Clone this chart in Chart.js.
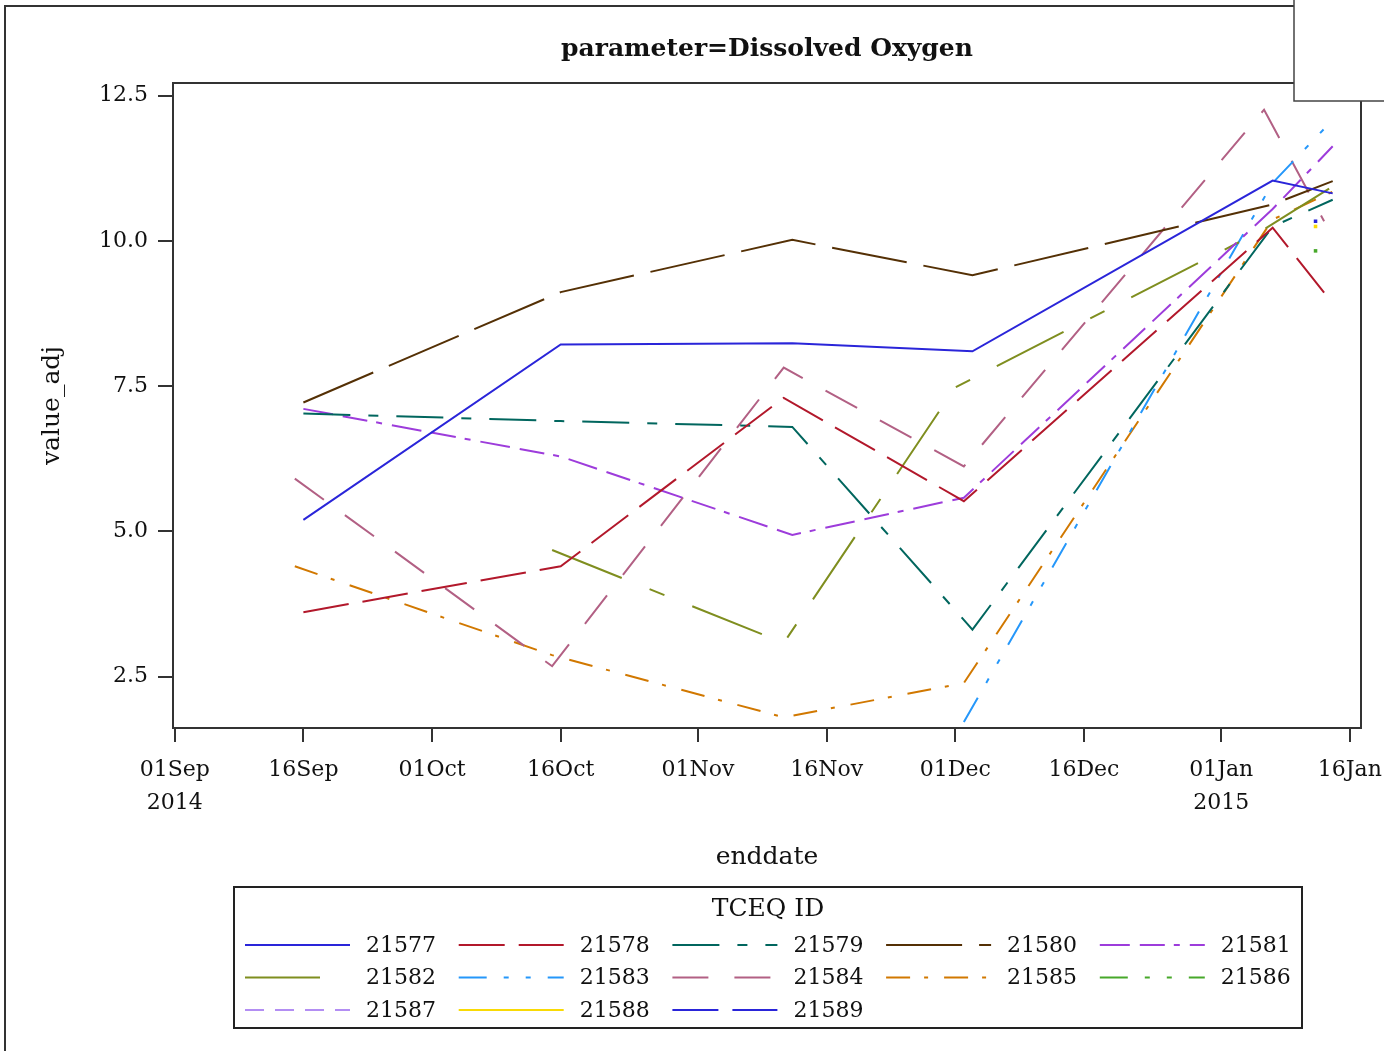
<!DOCTYPE html>
<html>
<head>
<meta charset="utf-8">
<title>Dissolved Oxygen by TCEQ ID</title>
<script src="https://cdn.jsdelivr.net/npm/chart.js@4.4.0/dist/chart.umd.min.js"></script>
<style>
  html, body { margin: 0; padding: 0; background: #fff; overflow: hidden; }
  #wrap { position: relative; width: 1384px; height: 1051px; }
</style>
</head>
<body>
<div id="wrap"><canvas id="chart1"></canvas></div>
<script>
  // sampling dates and dissolved oxygen (value_adj) per station
  var siteIds = ['21577', '21578', '21579', '21580', '21581', '21582', '21583',
                 '21584', '21585', '21586', '21587', '21588', '21589']

  var dates21577 = ['2014-09-16', '2014-10-16', '2014-11-12', '2014-12-03', '2015-01-07', '2015-01-14']
  var vals21577 = [5.20, 8.22, 8.24, 8.10, 11.04, 10.82]

  var dates21578 = ['2014-09-16', '2014-10-16', '2014-11-11', '2014-12-02', '2015-01-07', '2015-01-13']
  var vals21578 = [3.61, 4.40, 7.30, 5.52, 10.23, 9.11]

  var dates21579 = ['2014-09-16', '2014-10-16', '2014-11-12', '2014-12-03', '2015-01-07', '2015-01-14']
  var vals21579 = [7.03, 6.90, 6.80, 3.31, 10.25, 10.71]

  var dates21580 = ['2014-09-16', '2014-10-16', '2014-11-12', '2014-12-03', '2015-01-07', '2015-01-14']
  var vals21580 = [7.22, 9.12, 10.02, 9.41, 10.63, 11.03]

  var dates21581 = ['2014-09-16', '2014-10-16', '2014-11-12', '2014-12-02', '2015-01-07', '2015-01-14']
  var vals21581 = [7.11, 6.29, 4.94, 5.58, 10.55, 11.63]

  var dates21582 = ['2014-10-15', '2014-11-11', '2014-12-01', '2015-01-06', '2015-01-14']
  var vals21582 = [4.68, 3.08, 7.48, 10.20, 10.94]

  var dates21583 = ['2014-12-02', '2015-01-07', '2015-01-13']
  var vals21583 = [1.72, 11.00, 11.93]

  var dates21584 = ['2014-09-15', '2014-10-15', '2014-11-11', '2014-12-02', '2015-01-06', '2015-01-13']
  var vals21584 = [5.91, 2.68, 7.82, 6.12, 12.26, 10.34]

  var dates21585 = ['2014-09-15', '2014-10-15', '2014-11-11', '2014-12-02', '2015-01-07', '2015-01-14']
  var vals21585 = [4.40, 2.87, 1.80, 2.39, 10.37, 10.85]

  var dates21586 = ['2015-01-12']
  var vals21586 = [9.83]

  var dates21587 = []
  var vals21587 = []

  var dates21588 = ['2015-01-12']
  var vals21588 = [10.25]

  var dates21589 = ['2015-01-12']
  var vals21589 = [10.34]

  // axis ticks
  var xTickDates = ['2014-09-01', '2014-09-16', '2014-10-01', '2014-10-16', '2014-11-01',
                    '2014-11-16', '2014-12-01', '2014-12-16', '2015-01-01', '2015-01-16']
  var xTickLabels = [['01Sep', '2014'], '16Sep', '01Oct', '16Oct', '01Nov',
                     '16Nov', '01Dec', '16Dec', ['01Jan', '2015'], '16Jan']
  var yTicks = [2.5, 5.0, 7.5, 10.0, 12.5]

  var allDates = [dates21577, dates21578, dates21579, dates21580, dates21581, dates21582, dates21583,
                  dates21584, dates21585, dates21586, dates21587, dates21588, dates21589]
  var allVals = [vals21577, vals21578, vals21579, vals21580, vals21581, vals21582, vals21583,
                 vals21584, vals21585, vals21586, vals21587, vals21588, vals21589]

  // line styles (colour, dash)
  var lineColors = ['#2A25D9', '#B2182B', '#01665E', '#543005', '#9D3CDB', '#7F8E1F', '#2597FA',
                    '#B26084', '#D17800', '#47A82A', '#B38EF3', '#F9DA04', '#2A25D9']
  var lineDashes = [
    [],
    [46, 14],
    [47, 18, 10, 18],
    [76, 17],
    [30, 10, 25, 9, 6, 10],
    [75, 30, 16, 30],
    [28, 17, 5, 17, 5, 17],
    [36, 26],
    [24, 14, 4, 16],
    [28, 17, 5, 17, 5, 17],
    [19, 11],
    [],
    [46, 14]
  ]

  var serif = '"DejaVu Serif", serif'
  var startDay = Date.UTC(2014, 8, 1)

  function dayNum(s) {
    var p = s.split('-')
    return (Date.UTC(Number(p[0]), Number(p[1]) - 1, Number(p[2])) - startDay) / 86400000
  }

  var xTickDays = xTickDates.map(dayNum)

  var datasets = []
  for (var i = 0; i < siteIds.length; i++) {
    var pts = []
    for (var j = 0; j < allDates[i].length; j++) {
      pts.push({ x: dayNum(allDates[i][j]), y: allVals[i][j] })
    }
    var single = pts.length == 1
    datasets.push({
      label: siteIds[i],
      data: pts,
      borderColor: lineColors[i],
      backgroundColor: lineColors[i],
      borderWidth: 2,
      borderDash: lineDashes[i],
      pointRadius: single ? 2.5 : 0,
      pointStyle: 'rect',
      pointBorderWidth: 0,
      tension: 0,
      fill: false
    })
  }

  // no extra room for overhanging tick labels, the plot box is fixed
  function noPadding(s) {
    s.paddingLeft = 0
    s.paddingRight = 0
    s.paddingTop = 0
    s.paddingBottom = 0
  }

  // frame, title, plot border and the legend box
  var decorations = {
    id: 'decorations',
    afterDraw: function (chart) {
      var ctx = chart.ctx
      var a = chart.chartArea
      ctx.save()

      // plot border
      ctx.strokeStyle = '#333'
      ctx.lineWidth = 2
      ctx.strokeRect(a.left, a.top, a.right - a.left, a.bottom - a.top)

      // title
      ctx.fillStyle = '#111'
      ctx.font = 'bold 25px ' + serif
      ctx.textAlign = 'center'
      ctx.textBaseline = 'middle'
      ctx.fillText('parameter=Dissolved Oxygen', 767, 49)

      // legend
      ctx.strokeStyle = '#222'
      ctx.lineWidth = 2
      ctx.strokeRect(234, 887, 1068, 141)
      ctx.font = '25px ' + serif
      ctx.fillText('TCEQ ID', 768, 909)

      ctx.font = '22px ' + serif
      ctx.textAlign = 'left'
      chart.data.datasets.forEach(function (ds, k) {
        var col = k % 5
        var row = Math.floor(k / 5)
        var x0 = 245 + col * 213.7
        var y0 = 945 + row * 32.5
        ctx.strokeStyle = ds.borderColor
        ctx.lineWidth = 2
        ctx.setLineDash(ds.borderDash)
        ctx.beginPath()
        ctx.moveTo(x0, y0)
        ctx.lineTo(x0 + 105, y0)
        ctx.stroke()
        ctx.setLineDash([])
        ctx.fillText(ds.label, x0 + 121, y0 + 1)
      })

      // outer page frame
      ctx.strokeStyle = '#333'
      ctx.lineWidth = 2
      ctx.beginPath()
      ctx.moveTo(5, 1060)
      ctx.lineTo(5, 6)
      ctx.lineTo(1390, 6)
      ctx.stroke()

      // blank box in the top right corner
      ctx.fillStyle = '#fff'
      ctx.fillRect(1294, 0, 100, 101)
      ctx.strokeStyle = '#444'
      ctx.lineWidth = 1.5
      ctx.beginPath()
      ctx.moveTo(1294, 0)
      ctx.lineTo(1294, 101)
      ctx.lineTo(1390, 101)
      ctx.stroke()

      ctx.restore()
    }
  }

  const config = {
    type: 'line',
    data: { datasets: datasets },
    options: {
      responsive: true,
      maintainAspectRatio: false,
      animation: false,
      devicePixelRatio: 1,
      layout: { padding: { top: 83, right: 23, bottom: 173, left: 0 } },
      plugins: {
        legend: { display: false },
        tooltip: { enabled: false },
        title: { display: false }
      },
      scales: {
        x: {
          type: 'linear',
          min: -0.2,
          max: 138.3,
          border: { display: true, color: '#333', width: 2 },
          grid: { drawOnChartArea: false, drawTicks: true, tickLength: 14, color: '#333', lineWidth: 2 },
          afterBuildTicks: function (s) {
            s.ticks = xTickDays.map(function (v) { return { value: v } })
          },
          afterFit: function (s) {
            s.height = 150
            noPadding(s)
          },
          ticks: {
            autoSkip: false,
            maxRotation: 0,
            padding: 12,
            color: '#111',
            font: { family: serif, size: 22, lineHeight: 1.5 },
            callback: function (v, idx) { return xTickLabels[idx] }
          },
          title: {
            display: true,
            text: 'enddate',
            color: '#111',
            font: { family: serif, size: 25, lineHeight: 1.2 },
            padding: { top: 0, bottom: 6 }
          }
        },
        y: {
          type: 'linear',
          min: 1.616,
          max: 12.72,
          border: { display: true, color: '#333', width: 2 },
          grid: { drawOnChartArea: false, drawTicks: true, tickLength: 15, color: '#333', lineWidth: 2 },
          afterBuildTicks: function (s) {
            s.ticks = yTicks.map(function (v) { return { value: v } })
          },
          afterFit: function (s) {
            s.width = 173
            noPadding(s)
          },
          ticks: {
            padding: 10,
            color: '#111',
            font: { family: serif, size: 22 },
            callback: function (v) { return Number(v).toFixed(1) }
          },
          title: {
            display: true,
            text: 'value_adj',
            color: '#111',
            font: { family: serif, size: 25, lineHeight: 1.2 },
            padding: { top: 37, bottom: 0 }
          }
        }
      }
    },
    plugins: [decorations]
  }

  const myChart = new Chart(document.getElementById('chart1'), config)
</script>
</body>
</html>
